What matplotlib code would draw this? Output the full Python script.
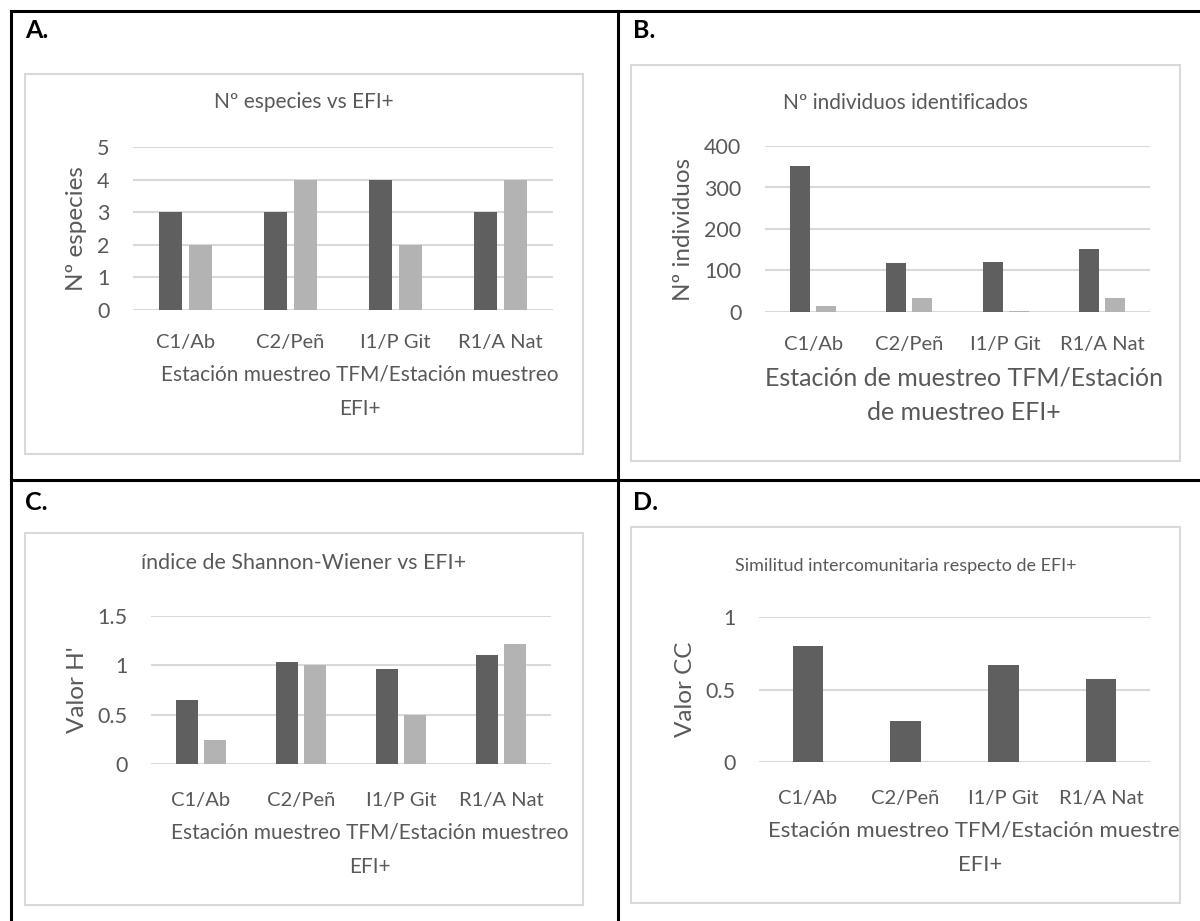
import matplotlib
matplotlib.use('Agg')
import matplotlib.pyplot as plt
from matplotlib.patches import Rectangle
from matplotlib.lines import Line2D
from matplotlib.ticker import FuncFormatter, MultipleLocator
from matplotlib.transforms import Bbox, TransformedBbox
import numpy as np

plt.rcParams['font.family'] = ['Lato', 'DejaVu Sans']

# data
stations = ['C1/Ab', 'C2/Peñ', 'I1/P Git', 'R1/A Nat']
especies_tfm = [3, 3, 4, 3]
especies_efi = [2, 4, 2, 4]
individuos_tfm = [352, 119, 121, 152]
individuos_efi = [15, 33, 3, 33]
shannon_tfm = [0.65, 1.03, 0.96, 1.10]
shannon_efi = [0.24, 1.00, 0.50, 1.22]
similitud = [0.80, 0.28, 0.67, 0.57]

W, H = 1200, 921
dark = '#5f5f5f'
light = '#b3b3b3'
txt = '#595959'
grid = '#d9d9d9'

fig = plt.figure(figsize=(W/100, H/100), dpi=100)

def fbox(x0, y0, x1, y1):
    return [x0/W, 1 - y1/H, (x1 - x0)/W, (y1 - y0)/H]

# table lines
for l in [Line2D([11/W, 1], [1 - 11/H]*2), Line2D([11/W, 1], [1 - 480/H]*2),
          Line2D([11/W]*2, [1 - 11/H, 0]), Line2D([618/W]*2, [1 - 11/H, 0])]:
    l.set_color('black'); l.set_linewidth(2.2)
    fig.add_artist(l)

for lab, x, y in [('A.', 25, 30), ('B.', 633, 30), ('C.', 25, 502), ('D.', 633, 502)]:
    fig.text(x/W, 1 - y/H, lab, fontsize=18, fontweight='bold', va='center', ha='left')


def chart(box, plot, title, title_y, ylabel, ymax, step, series, xlabel,
          xl_size=15, xl_x=0.54, xl_ls=1.9, title_size=15, width=0.22, xpad=17):
    rect = Rectangle((box[0]/W, 1 - box[3]/H), (box[2] - box[0])/W, (box[3] - box[1])/H,
                     transform=fig.transFigure, facecolor='white', edgecolor=grid, lw=1.5,
                     zorder=-1)
    fig.add_artist(rect)
    fig.text((box[0] + box[2])/2/W, 1 - title_y/H, title, fontsize=title_size, color=txt,
             ha='center', va='center')
    ax = fig.add_axes(fbox(*plot))
    ax.patch.set_alpha(0)
    x = np.arange(len(stations))
    n = len(series)
    gap = 0.06
    for i, (vals, col) in enumerate(series):
        off = (i - (n - 1)/2) * (width + gap)
        ax.bar(x + off, vals, width, color=col, zorder=3)
    ax.set_xlim(-0.5, 3.5)
    ax.set_ylim(0, ymax)
    ax.yaxis.set_major_locator(MultipleLocator(step))
    ax.yaxis.set_major_formatter(FuncFormatter(lambda v, _: f'{v:g}'))
    ax.yaxis.grid(True, color=grid, lw=1.5)
    ax.set_axisbelow(True)
    for s in ax.spines.values():
        s.set_visible(False)
    ax.set_xticks(x)
    ax.set_xticklabels(stations)
    ax.tick_params(axis='y', length=0, colors=txt, labelsize=15.5, pad=17)
    ax.tick_params(axis='x', length=0, colors=txt, labelsize=14.5, pad=xpad)
    ax.set_ylabel(ylabel, fontsize=17.5, color=txt, labelpad=7)
    xl = ax.set_xlabel(xlabel, fontsize=xl_size, color=txt, labelpad=10, linespacing=xl_ls)
    ax.xaxis.label.set_x(xl_x)
    # the axis title is cut off by the chart frame (panel D)
    xl.set_clip_box(TransformedBbox(Bbox.from_extents(fbox(*box)[0], 0, (box[2] - 1)/W, 1),
                                    fig.transFigure))
    xl.set_clip_on(True)
    return ax


chart((25, 74, 583, 454), (133, 147, 553, 310), 'Nº especies vs EFI+', 102,
      'Nº especies', 5, 1, [(especies_tfm, dark), (especies_efi, light)],
      'Estación muestreo TFM/Estación muestreo\nEFI+')
chart((631, 65, 1180, 461), (765, 146, 1150, 312), 'Nº individuos identificados', 103,
      'Nº individuos', 400, 100, [(individuos_tfm, dark), (individuos_efi, light)],
      'Estación de muestreo TFM/Estación\nde muestreo EFI+', xl_size=18, xl_x=0.516,
      xl_ls=1.6, width=0.21)
chart((25, 533, 583, 905), (151, 616, 551, 764), 'índice de Shannon-Wiener vs EFI+', 563,
      "Valor H'", 1.5, 0.5, [(shannon_tfm, dark), (shannon_efi, light)],
      'Estación muestreo TFM/Estación muestreo\nEFI+', xl_x=0.548, title_size=15.4, xpad=20)
chart((631, 527, 1180, 903), (759, 617, 1150, 762), 'Similitud intercomunitaria respecto de EFI+', 566,
      'Valor CC', 1, 0.5, [(similitud, dark)],
      'Estación muestreo TFM/Estación muestreo\nEFI+', xl_size=16, xl_x=0.565,
      title_size=13, width=0.31, xpad=20)

fig.savefig('out.png', dpi=100)
